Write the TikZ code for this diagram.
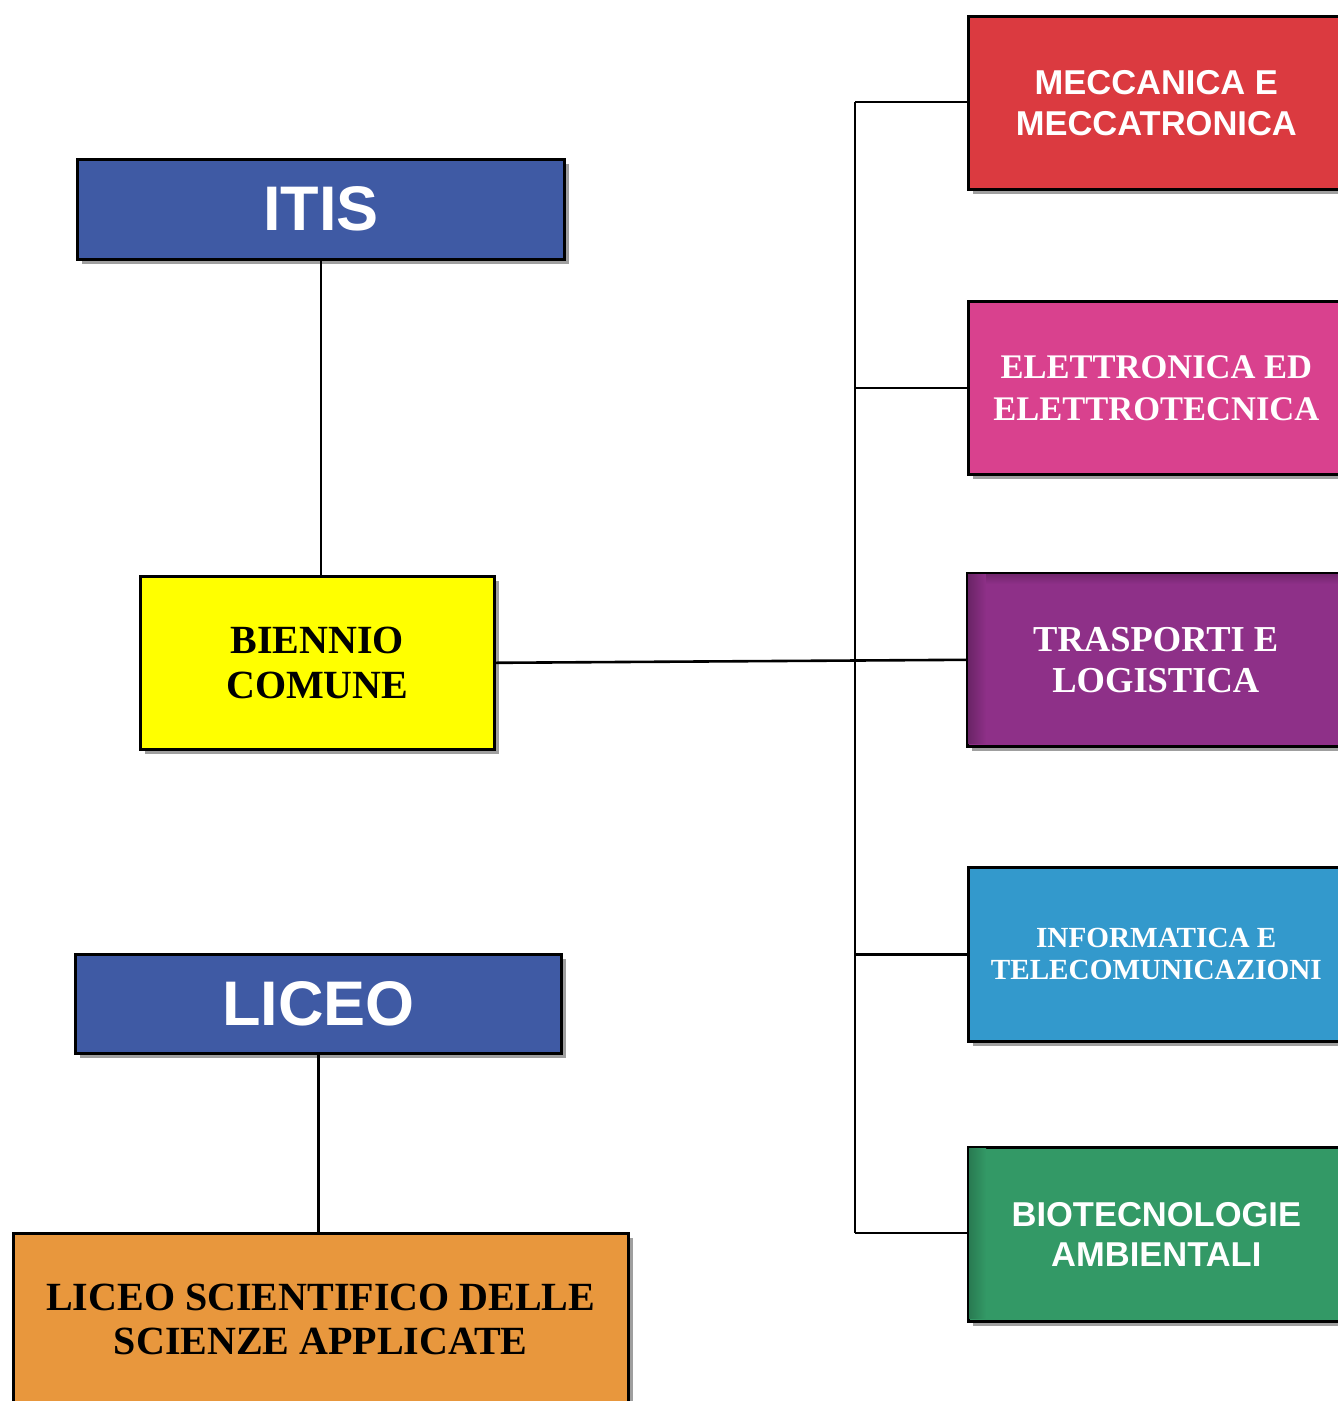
\documentclass[tikz,border=0pt]{standalone}
\usepackage{fontspec}
\setmainfont{Liberation Serif}
\setsansfont{Liberation Sans}
\usetikzlibrary{shadows}
\definecolor{itisblue}{HTML}{3F5AA4}
\definecolor{cyell}{HTML}{FFFF00}
\definecolor{cred}{HTML}{DB3A40}
\definecolor{cpink}{HTML}{D9418E}
\definecolor{cpurp}{HTML}{8E3088}
\definecolor{ccyan}{HTML}{3399CC}
\definecolor{cgreen}{HTML}{339966}
\definecolor{corange}{HTML}{E8973D}
\begin{document}
\begin{tikzpicture}[x=1pt,y=-1pt,
  box/.style={draw=black, line width=2.6pt, anchor=north west, inner sep=0pt, align=center,
    drop shadow={shadow xshift=5pt, shadow yshift=-5pt, opacity=0.5, fill=black!75}},
  conn/.style={draw=black, line width=2.6pt}]
\useasboundingbox (0,0) rectangle (1338,1401);
\clip (0,0) rectangle (1338,1401);

% left column
\node[box, fill=itisblue, minimum width=487pt, minimum height=100pt, text=white,
  font=\sffamily\bfseries\fontsize{63}{70}\selectfont] (itis) at (76,158) {ITIS};
\node[box, fill=cyell, minimum width=354pt, minimum height=173pt,
  font=\rmfamily\bfseries\fontsize{40}{45}\selectfont] (bien) at (139,575) {BIENNIO\\COMUNE};
\node[box, fill=itisblue, minimum width=486pt, minimum height=99pt, text=white,
  font=\sffamily\bfseries\fontsize{63}{70}\selectfont] (liceo) at (74,953) {LICEO};
\node[box, fill=corange, minimum width=615pt, minimum height=172pt,
  font=\rmfamily\bfseries\fontsize{40}{44.5}\selectfont] (lsa) at (12,1232) {LICEO SCIENTIFICO DELLE\\SCIENZE APPLICATE};

% right column
\node[box, fill=cred, minimum width=376pt, minimum height=173pt, text=white,
  font=\sffamily\bfseries\fontsize{34.5}{41}\selectfont] (mecc) at (967,15) {MECCANICA E\\MECCATRONICA};
\node[box, fill=cpink, minimum width=376pt, minimum height=173pt, text=white,
  font=\rmfamily\bfseries\fontsize{34.5}{42}\selectfont] (elet) at (967,300) {ELETTRONICA ED\\ELETTROTECNICA};
\node[box, fill=cpurp, minimum width=377pt, minimum height=173pt] (trasp) at (966,572) {};
\shade[left color=cpurp!75!black, right color=cpurp] (968,574) rectangle (986,743);
\shade[top color=cpurp!80!black, bottom color=cpurp] (986,574) rectangle (1338,584);
\node[box, fill=ccyan, minimum width=376pt, minimum height=174pt, text=white,
  font=\rmfamily\bfseries\fontsize{29.2}{32}\selectfont] (info) at (967,866) {INFORMATICA E\\TELECOMUNICAZIONI};
\node[box, fill=cgreen, minimum width=376pt, minimum height=174pt] (bio) at (967,1146) {};
\shade[left color=cgreen!80!black, right color=cgreen] (969,1148) rectangle (986,1318);
\node[text=white, align=center, inner sep=0pt,
  font=\rmfamily\bfseries\fontsize{36.5}{41}\selectfont] (trasptxt) at (trasp.center) {TRASPORTI E\\LOGISTICA};
\node[text=white, align=center, inner sep=0pt,
  font=\sffamily\bfseries\fontsize{34.5}{40}\selectfont] (biotxt) at (bio.center) {BIOTECNOLOGIE\\AMBIENTALI};

% connectors
\coordinate (bustop) at (855,102);
\coordinate (busbot) at (855,1233);
\draw[conn] (itis.south) -- (itis.south |- bien.north);
\draw[conn] (liceo.south) -- (liceo.south |- lsa.north);
\draw[conn] (bien.east) -- (trasp.west);
\draw[conn] (bustop) -- (busbot);
\draw[conn] (bustop) -- (bustop -| mecc.west);
\draw[conn] (elet.west -| bustop) -- (elet.west);
\draw[conn] (info.west -| bustop) -- (info.west);
\draw[conn] (busbot) -- (busbot -| bio.west);
\end{tikzpicture}
\end{document}
